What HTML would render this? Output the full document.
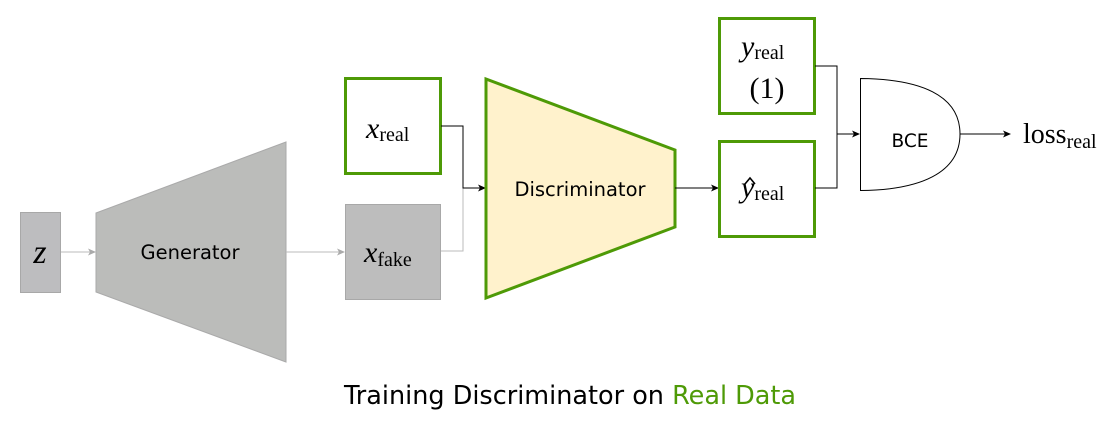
<!DOCTYPE html>
<html><head><meta charset="utf-8"><style>
html,body{margin:0;padding:0;background:#fff;}
svg{display:block;}
.m{font-family:"Liberation Serif",serif;font-style:italic;}
.r{font-family:"Liberation Serif",serif;}
.s{font-family:"DejaVu Sans","Liberation Sans",sans-serif;}
</style></head><body>
<svg width="1119" height="422" viewBox="0 0 1119 422" xmlns="http://www.w3.org/2000/svg">
<defs>
<marker id="ab" markerWidth="8" markerHeight="8" refX="7" refY="4" orient="auto" markerUnits="userSpaceOnUse"><path d="M0,0.5 L8,4 L0,7.5 L2,4 Z" fill="#000"/></marker>
<marker id="ag" markerWidth="8" markerHeight="8" refX="7" refY="4" orient="auto" markerUnits="userSpaceOnUse"><path d="M0,0.5 L8,4 L0,7.5 L2,4 Z" fill="#aaa"/></marker>
</defs>
<!-- z -->
<rect x="20.5" y="212.5" width="40" height="80" fill="#bdbdbf" stroke="#a8a8a8"/>
<text x="40" y="263" class="m" font-size="34" text-anchor="middle">z</text>
<line x1="61" y1="252" x2="95" y2="252" stroke="#bbb" stroke-width="1" marker-end="url(#ag)"/>
<!-- Generator -->
<polygon points="96,213 286,142 286,362 96,292" fill="#bbbcba" stroke="#aaa"/>
<text x="190" y="259" class="s" font-size="19.5" text-anchor="middle">Generator</text>
<line x1="286" y1="252" x2="344" y2="252" stroke="#bbb" marker-end="url(#ag)"/>
<!-- x_fake -->
<rect x="345.5" y="204.5" width="95" height="95" fill="#bdbdbd" stroke="#a8a8a8"/>
<text x="364" y="262" class="m" font-size="30">x<tspan class="r" font-style="normal" font-size="20" dy="4">fake</tspan></text>
<polyline points="441,251 463,251 463,188" fill="none" stroke="#bbb"/>
<!-- x_real -->
<rect x="345.5" y="78.5" width="95" height="95" fill="#fff" stroke="#4e9a06" stroke-width="3"/>
<text x="366" y="138" class="m" font-size="30">x<tspan class="r" font-style="normal" font-size="20" dy="3">real</tspan></text>
<polyline points="441,126 463,126 463,188 485,188" fill="none" stroke="#000" marker-end="url(#ab)"/>
<!-- Discriminator -->
<polygon points="486,79 675,150 675,227 486,298" fill="#fff2cc" stroke="#4e9a06" stroke-width="3"/>
<text x="580" y="196" class="s" font-size="19.5" text-anchor="middle">Discriminator</text>
<line x1="675" y1="188" x2="718" y2="188" stroke="#000" marker-end="url(#ab)"/>
<!-- y_real -->
<rect x="719.5" y="18.5" width="95" height="95" fill="#fff" stroke="#4e9a06" stroke-width="3"/>
<text x="741" y="56" class="m" font-size="30">y<tspan class="r" font-style="normal" font-size="20" dy="3">real</tspan></text>
<text x="767" y="98" class="r" font-size="30" text-anchor="middle">(1)</text>
<!-- yhat -->
<rect x="719.5" y="141.5" width="95" height="95" fill="#fff" stroke="#4e9a06" stroke-width="3"/>
<text x="741" y="197" class="m" font-size="30">y<tspan class="r" font-style="normal" font-size="20" dy="3">real</tspan></text>
<path d="M745,184 L750,178 L755,184" fill="none" stroke="#000" stroke-width="1.6"/>
<polyline points="815,66 837,66 837,134 859,134" fill="none" stroke="#000" marker-end="url(#ab)"/>
<polyline points="815,188 837,188 837,134" fill="none" stroke="#000"/>
<!-- BCE -->
<path d="M860.5,78.5 C920,79 960,95 960,134 C960,173 920,190 860.5,190.5 Z" fill="#fff" stroke="#000"/>
<text x="910" y="147" class="s" font-size="18.5" text-anchor="middle">BCE</text>
<line x1="960" y1="134" x2="1010" y2="134" stroke="#000" marker-end="url(#ab)"/>
<text x="1023" y="143" class="r" font-size="28">loss<tspan font-size="20" dy="5">real</tspan></text>
<!-- caption -->
<text x="570" y="404" class="s" font-size="25.5" text-anchor="middle">Training Discriminator on <tspan fill="#4e9a06">Real Data</tspan></text>
</svg>
</body></html>
